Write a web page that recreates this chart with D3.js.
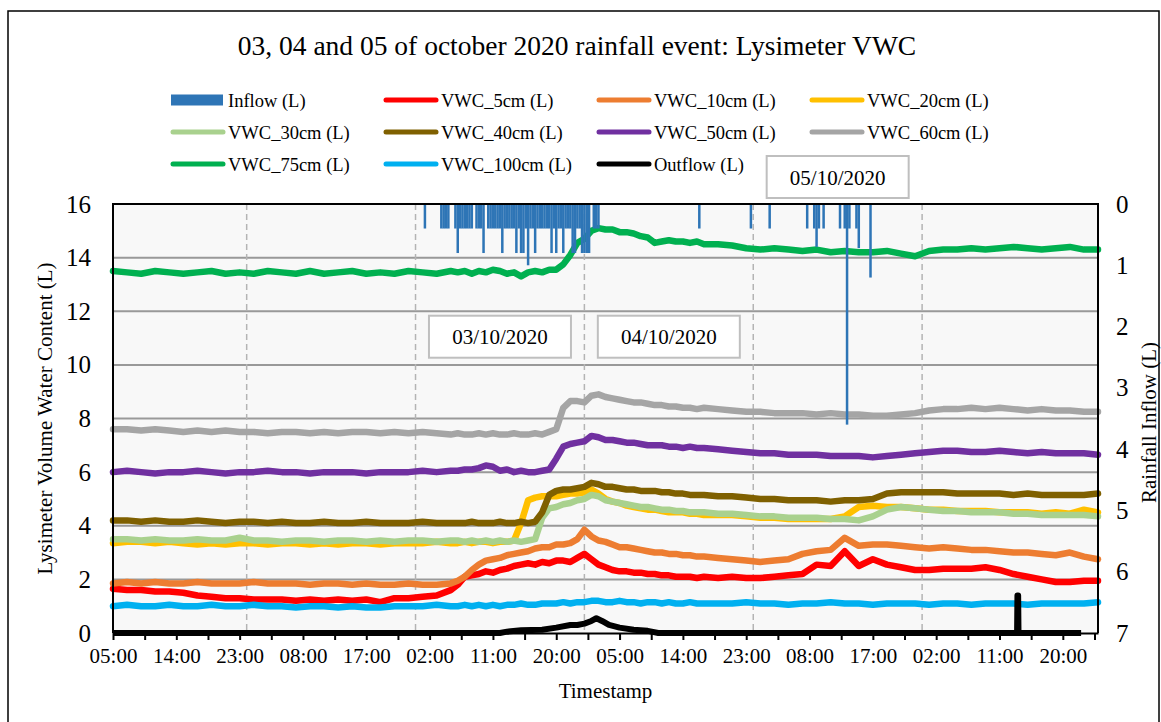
<!DOCTYPE html>
<html>
<head>
<meta charset="utf-8">
<script src="https://cdn.jsdelivr.net/npm/d3@7"></script>
<style>
  body { margin: 0; background: #fff; }
  svg { display: block; font-family: "Liberation Serif", "Times New Roman", serif; }
</style>
</head>
<body>
<svg id="chart" width="1161" height="722"></svg>
<script>
// ---- data -------------------------------------------------------------
// Sample times, in hours after 01/10/2020 05:00
const hours = [
  0,2,4,6,8,10,12,14,16,18,20,22,24,26,28,30,32,34,36,38,40,42,44,46,48,
  49,50,51,52,53,54,55,56,57,58,59,60,61,62,63,64,65,66,67,68,69,70,71,72,
  73,74,75,76,77,78,79,80,81,82,83,84,
  86,88,90,92,94,96,98,100,102,104,106,108,110,112,114,116,118,120,122,124,
  126,128,130,132,134,136,138,140
];

const vwc5 = [
  1.65,1.6,1.6,1.55,1.55,1.5,1.4,1.35,1.3,1.3,1.25,1.25,1.25,1.2,1.25,1.2,1.25,1.2,1.25,1.15,1.3,1.3,1.35,1.4,1.6,
  1.8,2.1,2.15,2.2,2.3,2.25,2.35,2.4,2.5,2.55,2.6,2.55,2.65,2.6,2.7,2.7,2.65,2.8,2.95,2.75,2.55,2.45,2.35,2.3,
  2.3,2.25,2.25,2.2,2.2,2.15,2.15,2.1,2.1,2.1,2.05,2.1,
  2.05,2.1,2.05,2.05,2.1,2.15,2.2,2.55,2.5,3.05,2.5,2.75,2.55,2.45,2.35,2.35,2.4,2.4,2.4,2.45,
  2.35,2.2,2.1,2.0,1.9,1.9,1.95,1.95
];
const vwc10 = [
  1.85,1.9,1.85,1.9,1.85,1.85,1.9,1.85,1.85,1.85,1.9,1.85,1.85,1.85,1.8,1.85,1.85,1.8,1.85,1.8,1.8,1.85,1.8,1.8,1.85,
  1.95,2.1,2.35,2.55,2.7,2.75,2.8,2.9,2.95,3.0,3.05,3.15,3.2,3.2,3.3,3.3,3.35,3.5,3.85,3.6,3.45,3.4,3.3,3.2,
  3.2,3.15,3.1,3.05,3.0,3.0,2.95,2.95,2.9,2.9,2.85,2.85,
  2.8,2.75,2.7,2.65,2.7,2.75,2.95,3.05,3.1,3.55,3.25,3.3,3.3,3.25,3.2,3.15,3.2,3.15,3.1,3.1,
  3.05,3.0,3.0,2.95,2.9,3.0,2.85,2.75
];
const vwc20 = [
  3.35,3.4,3.4,3.35,3.4,3.35,3.3,3.35,3.3,3.35,3.35,3.3,3.35,3.35,3.3,3.35,3.3,3.35,3.35,3.3,3.35,3.35,3.35,3.4,3.35,
  3.35,3.4,3.35,3.4,3.4,3.35,3.4,3.4,3.45,4.1,4.95,5.05,5.1,5.1,5.1,5.15,5.2,5.2,5.25,5.35,5.2,5.0,4.9,4.85,
  4.75,4.7,4.65,4.6,4.6,4.55,4.5,4.5,4.5,4.45,4.45,4.4,
  4.4,4.4,4.35,4.3,4.3,4.25,4.25,4.25,4.25,4.35,4.7,4.75,4.7,4.7,4.65,4.6,4.6,4.55,4.55,4.55,
  4.5,4.5,4.5,4.45,4.5,4.45,4.6,4.5
];
const vwc30 = [
  3.5,3.5,3.45,3.5,3.45,3.45,3.5,3.45,3.45,3.55,3.45,3.45,3.4,3.45,3.45,3.4,3.45,3.45,3.4,3.45,3.4,3.45,3.45,3.4,3.45,
  3.45,3.4,3.45,3.4,3.45,3.4,3.45,3.4,3.45,3.4,3.45,3.5,4.3,4.65,4.7,4.8,4.85,4.95,5.0,5.15,5.1,4.95,4.9,4.85,
  4.8,4.75,4.7,4.7,4.65,4.6,4.6,4.55,4.55,4.5,4.5,4.5,
  4.45,4.45,4.4,4.35,4.35,4.3,4.3,4.3,4.25,4.25,4.2,4.35,4.6,4.7,4.65,4.6,4.55,4.55,4.5,4.5,
  4.5,4.45,4.45,4.4,4.4,4.4,4.4,4.35
];
const vwc40 = [
  4.2,4.2,4.15,4.2,4.15,4.15,4.2,4.15,4.1,4.15,4.15,4.1,4.15,4.1,4.1,4.15,4.1,4.1,4.15,4.1,4.1,4.1,4.15,4.1,4.1,
  4.1,4.1,4.15,4.1,4.1,4.1,4.15,4.1,4.1,4.15,4.1,4.15,4.5,5.15,5.3,5.35,5.35,5.4,5.45,5.6,5.55,5.45,5.45,5.4,
  5.35,5.35,5.3,5.3,5.3,5.25,5.25,5.2,5.2,5.15,5.15,5.15,
  5.1,5.1,5.05,5.0,5.0,4.95,4.95,4.95,4.9,4.95,4.95,5.0,5.2,5.25,5.25,5.25,5.25,5.2,5.2,5.2,
  5.2,5.15,5.2,5.15,5.15,5.15,5.15,5.2
];
const vwc50 = [
  6.0,6.05,6.0,5.95,6.0,6.0,6.05,6.0,5.95,6.0,6.0,6.05,6.0,6.0,5.95,6.0,6.0,6.0,5.95,6.0,6.0,6.0,6.05,6.0,6.05,
  6.05,6.1,6.1,6.15,6.25,6.2,6.05,6.1,6.0,6.05,6.0,6.0,6.05,6.1,6.5,6.95,7.05,7.1,7.15,7.35,7.3,7.2,7.2,7.15,
  7.1,7.1,7.05,7.0,7.0,7.0,6.95,6.95,6.9,6.95,6.9,6.9,
  6.85,6.8,6.75,6.7,6.7,6.65,6.65,6.65,6.6,6.6,6.6,6.55,6.6,6.65,6.7,6.75,6.8,6.8,6.75,6.75,
  6.8,6.75,6.7,6.75,6.7,6.7,6.7,6.65
];
const vwc60 = [
  7.6,7.6,7.55,7.6,7.55,7.5,7.55,7.5,7.55,7.5,7.5,7.45,7.5,7.5,7.45,7.5,7.45,7.5,7.5,7.45,7.5,7.45,7.5,7.45,7.4,
  7.45,7.4,7.4,7.45,7.4,7.45,7.4,7.4,7.45,7.4,7.4,7.45,7.4,7.5,7.6,8.4,8.65,8.65,8.6,8.85,8.9,8.8,8.75,8.7,
  8.65,8.6,8.6,8.55,8.5,8.5,8.45,8.45,8.4,8.4,8.35,8.4,
  8.35,8.3,8.25,8.25,8.2,8.2,8.2,8.15,8.2,8.15,8.15,8.1,8.1,8.15,8.2,8.3,8.35,8.35,8.4,8.35,
  8.4,8.35,8.3,8.35,8.3,8.3,8.25,8.25
];
const vwc75 = [
  13.5,13.45,13.4,13.5,13.45,13.4,13.45,13.5,13.4,13.45,13.4,13.5,13.45,13.4,13.5,13.4,13.45,13.5,13.4,13.45,13.4,13.5,13.45,13.4,13.5,
  13.45,13.5,13.4,13.5,13.45,13.55,13.5,13.4,13.45,13.3,13.45,13.5,13.45,13.55,13.55,13.75,14.1,14.55,14.7,15.0,15.1,15.05,15.05,14.95,
  14.95,14.9,14.8,14.75,14.55,14.6,14.65,14.6,14.6,14.55,14.6,14.5,
  14.5,14.45,14.35,14.3,14.35,14.3,14.25,14.3,14.2,14.25,14.2,14.2,14.25,14.15,14.05,14.25,14.3,14.3,14.35,14.3,
  14.35,14.4,14.35,14.3,14.35,14.4,14.3,14.3
];
const vwc100 = [
  1.0,1.05,1.0,1.0,1.05,1.0,1.0,1.05,1.0,1.0,1.05,1.0,1.0,0.95,1.0,1.0,0.95,1.0,0.95,0.95,1.0,1.0,1.0,1.05,1.0,
  1.0,1.05,1.0,1.05,1.0,1.05,1.0,1.05,1.05,1.1,1.05,1.05,1.1,1.1,1.1,1.15,1.1,1.15,1.15,1.2,1.2,1.15,1.15,1.2,
  1.15,1.15,1.1,1.15,1.15,1.1,1.15,1.1,1.1,1.15,1.1,1.1,
  1.1,1.1,1.15,1.1,1.1,1.05,1.1,1.1,1.15,1.1,1.1,1.05,1.1,1.1,1.1,1.05,1.1,1.1,1.05,1.1,
  1.1,1.1,1.05,1.1,1.1,1.1,1.1,1.15
];

// Lysimeter outflow, hours after start and litres
const outflowHours  = [0,55,56,58,61,63,65,66,67,68,68.7,69.5,70.5,72,74,76,77.5,128.5,128.55,128.65,128.7,137.6];
const outflowValues = [0,0,0.05,0.1,0.12,0.2,0.3,0.3,0.35,0.45,0.55,0.45,0.3,0.2,0.12,0.08,0,0,1.4,1.4,0,0];

// Rainfall inflow: 20-minute record index after start, litres
const inflowSlots = [
  133,140,141,142,143,146,147,148,149,150,151,152,153,155,156,157,158,160,161,162,163,164,
  165,166,167,168,169,170,171,172,173,174,175,176,177,178,179,180,181,182,183,184,185,186,
  187,188,189,190,191,192,193,194,195,196,197,198,199,200,201,202,203,205,206,207,
  250,272,280,296,299,300,301,303,310,312,313,314,317,318,323
];
const inflowValues = [
  0.4,0.4,0.4,0.4,0.4,0.4,0.8,0.4,0.4,0.4,0.4,0.4,0.4,0.4,0.4,0.4,0.8,0.4,0.4,0.4,0.4,0.4,
  0.4,0.8,0.4,0.4,0.4,0.4,0.4,0.8,0.4,0.8,0.8,0.4,1.0,0.4,0.4,0.8,0.4,0.4,0.4,0.4,0.4,0.4,
  0.8,0.4,0.8,0.4,0.4,0.8,0.4,0.4,0.4,0.8,0.8,0.4,0.4,0.8,0.8,0.8,0.8,0.4,0.4,0.4,
  0.4,0.4,0.4,0.4,0.4,0.7,0.4,0.4,0.4,0.4,3.6,0.4,0.4,0.72,1.2
];

const seriesNames = ["VWC_5cm (L)","VWC_10cm (L)","VWC_20cm (L)","VWC_30cm (L)","VWC_40cm (L)",
                     "VWC_50cm (L)","VWC_60cm (L)","VWC_75cm (L)","VWC_100cm (L)"];
const seriesValues = [vwc5, vwc10, vwc20, vwc30, vwc40, vwc50, vwc60, vwc75, vwc100];
const seriesColors = ["#ff0000","#ed7d31","#ffc000","#a9d18e","#7f6000","#7030a0","#a5a5a5","#00b050","#00b0f0"];
const inflowColor = "#2e75b6";

const leftTicks = [0,2,4,6,8,10,12,14,16];
const rightTicks = [0,1,2,3,4,5,6,7];
const dateLabels = ["03/10/2020","04/10/2020","05/10/2020"];

// ---- layout -----------------------------------------------------------
const svg = d3.select("#chart");
const P = { left: 113, right: 1098, top: 204, bottom: 633 };
const start = new Date(2020, 9, 1, 5, 0);
const at = h => new Date(start.getTime() + h * 3600e3);

const x = d3.scaleTime().domain([at(0), at(140)]).range([P.left, P.right]);
const yL = d3.scaleLinear().domain([0, 16]).range([P.bottom, P.top]);
const yR = d3.scaleLinear().domain([0, 7]).range([P.top, P.bottom]);

// outer frame
svg.append("rect").attr("x", 8).attr("y", 11).attr("width", 1151).attr("height", 730)
  .attr("fill", "#fff").attr("stroke", "#000").attr("stroke-width", 1.5);

// title
svg.append("text").attr("x", 577).attr("y", 55).attr("text-anchor", "middle")
  .attr("font-size", 27.5).text("03, 04 and 05 of october 2020 rainfall event: Lysimeter VWC");

// plot background
svg.append("rect").attr("x", P.left).attr("y", P.top)
  .attr("width", P.right - P.left).attr("height", P.bottom - P.top).attr("fill", "#f8f8f8");

// horizontal gridlines
svg.append("g").selectAll("line").data(leftTicks.filter(v => v > 0 && v < 16)).join("line")
  .attr("x1", P.left).attr("x2", P.right).attr("y1", d => yL(d)).attr("y2", d => yL(d))
  .attr("stroke", "#999").attr("stroke-width", 2);

// day separators at midnight (02/10 to 06/10)
svg.append("g").selectAll("line").data(d3.timeDay.range(at(0.01), at(130))).join("line")
  .attr("x1", d => x(d)).attr("x2", d => x(d)).attr("y1", P.top).attr("y2", P.bottom)
  .attr("stroke", "#b4b4b4").attr("stroke-width", 1.5).attr("stroke-dasharray", "6,4");

// VWC series
const line = d3.line().x((d, i) => x(at(hours[i]))).y(d => yL(d));
svg.append("g").selectAll("path").data(seriesValues).join("path")
  .attr("d", d => line(d)).attr("fill", "none")
  .attr("stroke", (d, i) => seriesColors[i]).attr("stroke-width", 6.5)
  .attr("stroke-linejoin", "round").attr("stroke-linecap", "round");

// outflow
const outLine = d3.line().x((d, i) => x(at(outflowHours[i]))).y(d => yL(d));
svg.append("path").attr("d", outLine(outflowValues)).attr("fill", "none")
  .attr("stroke", "#000").attr("stroke-width", 6).attr("stroke-linejoin", "round");

// inflow bars hanging from the top (secondary axis)
const barW = 2.5;
svg.append("g").selectAll("rect").data(inflowValues).join("rect")
  .attr("x", (d, i) => x(at(inflowSlots[i] / 3)) - barW / 2)
  .attr("y", yR(0)).attr("width", barW)
  .attr("height", d => yR(d) - yR(0)).attr("fill", inflowColor);

// plot border
svg.append("path")
  .attr("d", `M${P.left},${P.bottom}V${P.top}H${P.right}V${P.bottom}`)
  .attr("fill", "none").attr("stroke", "#000").attr("stroke-width", 2);

// x axis
const tickDates = d3.range(0, 140, 4.5).map(at);
const fmt = d3.timeFormat("%H:%M");
const xAxis = svg.append("g").attr("transform", `translate(0,${P.bottom})`)
  .call(d3.axisBottom(x).tickValues(tickDates).tickSize(7).tickSizeOuter(0).tickPadding(8)
    .tickFormat((d, i) => i % 2 === 0 ? fmt(d) : ""));
xAxis.select(".domain").attr("stroke", "#000").attr("stroke-width", 2);
xAxis.selectAll(".tick line").attr("stroke", "#000").attr("stroke-width", 2);
xAxis.selectAll(".tick text").attr("font-size", 21).attr("font-family", "Liberation Serif").attr("fill", "#000");

// left axis
const yAxisL = svg.append("g").attr("transform", `translate(${P.left},0)`)
  .call(d3.axisLeft(yL).tickValues(leftTicks).tickFormat(d3.format("d")).tickSize(0).tickPadding(22));
yAxisL.select(".domain").remove();
yAxisL.selectAll(".tick text").attr("font-size", 25).attr("font-family", "Liberation Serif").attr("fill", "#000");

// right axis
const yAxisR = svg.append("g").attr("transform", `translate(${P.right},0)`)
  .call(d3.axisRight(yR).tickValues(rightTicks).tickFormat(d3.format("d")).tickSize(0).tickPadding(18));
yAxisR.select(".domain").remove();
yAxisR.selectAll(".tick text").attr("font-size", 25).attr("font-family", "Liberation Serif").attr("fill", "#000");

// axis titles
svg.append("text").attr("x", (P.left + P.right) / 2).attr("y", 698).attr("text-anchor", "middle")
  .attr("font-size", 21).text("Timestamp");
svg.append("text").attr("transform", `translate(52,${(P.top + P.bottom) / 2}) rotate(-90)`)
  .attr("text-anchor", "middle").attr("font-size", 21).text("Lysimeter Volume Water Content (L)");
svg.append("text").attr("transform", `translate(1156,${(P.top + P.bottom) / 2 + 4}) rotate(-90)`)
  .attr("text-anchor", "middle").attr("font-size", 21).text("Rainfall Inflow (L)");

// date labels at noon of each day
const boxW = 142, boxH = 42;
const boxY = [yL(11.05), yL(11.05), P.top - 27];
const ann = svg.append("g").selectAll("g").data(dateLabels).join("g")
  .attr("transform", (d, i) => `translate(${x(at(55 + 24 * i))},${boxY[i]})`);
ann.append("rect").attr("x", -boxW / 2).attr("y", -boxH / 2).attr("width", boxW).attr("height", boxH)
  .attr("fill", "#fff").attr("stroke", "#bfbfbf").attr("stroke-width", 2);
ann.append("text").attr("text-anchor", "middle").attr("y", 7.5).attr("font-size", 21).text(d => d);

// legend
const legendItems = [{ name: "Inflow (L)", color: inflowColor, bar: true }]
  .concat(seriesNames.map((n, i) => ({ name: n, color: seriesColors[i] })))
  .concat([{ name: "Outflow (L)", color: "#000" }]);
const lg = svg.append("g").selectAll("g").data(legendItems).join("g")
  .attr("transform", (d, i) => `translate(${171 + (i % 4) * 213},${100 + Math.floor(i / 4) * 32})`);
lg.filter(d => d.bar).append("rect").attr("x", 0).attr("y", -5.5).attr("width", 52).attr("height", 11)
  .attr("fill", d => d.color);
lg.filter(d => !d.bar).append("line").attr("x1", 2).attr("x2", 52).attr("y1", 0).attr("y2", 0)
  .attr("stroke", d => d.color).attr("stroke-width", 5).attr("stroke-linecap", "round");
lg.append("text").attr("x", 57).attr("y", 6.5).attr("font-size", 18.5).text(d => d.name);
</script>
</body>
</html>
